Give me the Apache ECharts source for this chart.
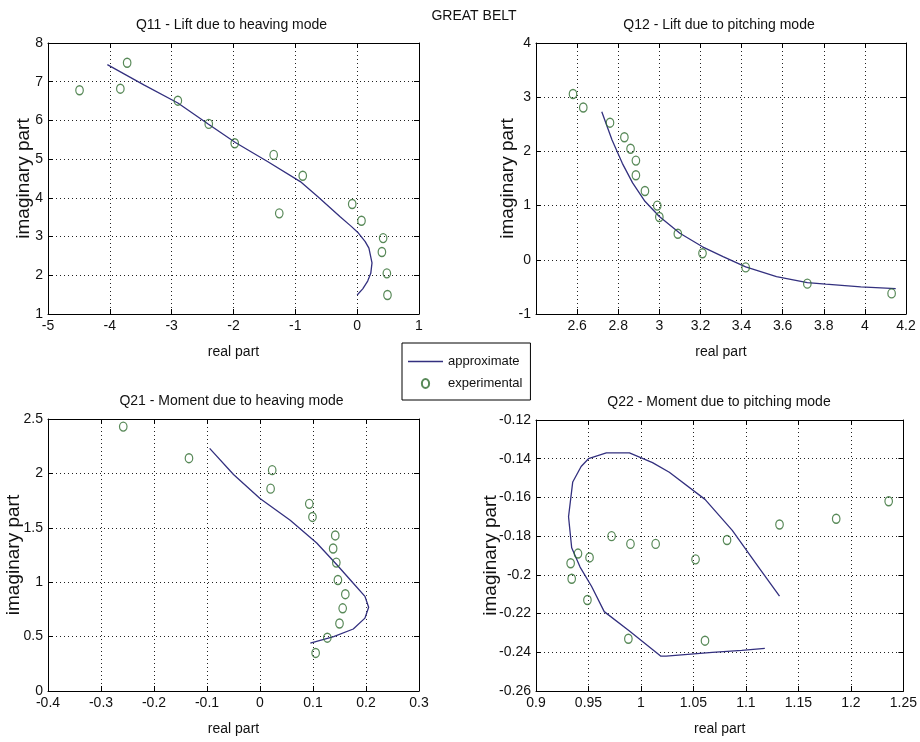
<!DOCTYPE html>
<html>
<head>
<meta charset="utf-8">
<script src="https://cdn.jsdelivr.net/npm/echarts@6/dist/echarts.min.js"></script>
<style>
  html, body { margin: 0; padding: 0; background: #fff; }
  #chart { width: 920px; height: 742px; }
</style>
</head>
<body>
<div id="chart"></div>
<script>
// Great Belt bridge deck: flutter derivative transfer functions in the complex plane

const q11ExpRe = [-4.49, -3.83, -3.72, -2.90, -2.40, -1.98, -1.35, -0.88, -1.26, -0.08, 0.07, 0.42, 0.40, 0.48, 0.49];
const q11ExpIm = [6.78, 6.82, 7.49, 6.51, 5.91, 5.41, 5.11, 4.57, 3.60, 3.84, 3.41, 2.96, 2.60, 2.05, 1.49];
const q11ApxRe = [-4.04, -3.45, -2.90, -2.41, -1.97, -1.45, -0.92, -0.63, -0.28, -0.10, 0.02, 0.13, 0.19, 0.24, 0.22, 0.17, 0.09, 0.00];
const q11ApxIm = [7.44, 6.92, 6.45, 5.91, 5.43, 4.94, 4.42, 4.02, 3.52, 3.27, 3.09, 2.87, 2.70, 2.32, 2.05, 1.85, 1.65, 1.49];

const q12ExpRe = [2.58, 2.63, 2.76, 2.83, 2.86, 2.886, 2.886, 2.93, 2.99, 3.00, 3.09, 3.21, 3.42, 3.72, 4.13];
const q12ExpIm = [3.06, 2.81, 2.53, 2.26, 2.05, 1.83, 1.56, 1.27, 1.00, 0.79, 0.48, 0.12, -0.14, -0.44, -0.62];
const q12ApxRe = [2.72, 2.77, 2.82, 2.87, 2.93, 3.00, 3.10, 3.21, 3.31, 3.42, 3.57, 3.72, 3.81, 3.98, 4.15];
const q12ApxIm = [2.73, 2.21, 1.78, 1.42, 1.08, 0.80, 0.49, 0.24, 0.06, -0.13, -0.31, -0.42, -0.45, -0.50, -0.53];

const q21ExpRe = [-0.258, -0.134, 0.023, 0.020, 0.093, 0.099, 0.142, 0.138, 0.144, 0.147, 0.161, 0.156, 0.150, 0.127, 0.105];
const q21ExpIm = [2.43, 2.14, 2.03, 1.86, 1.72, 1.60, 1.43, 1.31, 1.18, 1.02, 0.89, 0.76, 0.62, 0.49, 0.35];
const q21ApxRe = [-0.095, -0.05, 0.0, 0.057, 0.107, 0.145, 0.176, 0.198, 0.205, 0.198, 0.176, 0.139, 0.095];
const q21ApxIm = [2.23, 1.99, 1.77, 1.57, 1.36, 1.16, 0.99, 0.87, 0.77, 0.67, 0.57, 0.50, 0.44];

const q22ExpRe = [0.933, 0.934, 0.940, 0.951, 0.949, 0.972, 0.990, 1.014, 0.988, 1.052, 1.061, 1.082, 1.132, 1.186, 1.236];
const q22ExpIm = [-0.194, -0.202, -0.189, -0.191, -0.213, -0.180, -0.184, -0.184, -0.233, -0.192, -0.234, -0.182, -0.174, -0.171, -0.162];
const q22ApxRe = [1.132, 1.112, 1.087, 1.061, 1.027, 1.011, 0.989, 0.978, 0.967, 0.950, 0.943, 0.935, 0.931, 0.934, 0.942, 0.953, 0.965, 0.989, 1.019, 1.024, 1.068, 1.096, 1.118];
const q22ApxIm = [-0.211, -0.196, -0.177, -0.161, -0.147, -0.142, -0.137, -0.137, -0.137, -0.140, -0.144, -0.152, -0.170, -0.186, -0.196, -0.206, -0.219, -0.229, -0.242, -0.242, -0.240, -0.239, -0.238];

const panelTitles = [
  'Q11 - Lift due to heaving mode',
  'Q12 - Lift due to pitching mode',
  'Q21 - Moment due to heaving mode',
  'Q22 - Moment due to pitching mode'
];
const xRanges = [[-5, 1, 1], [2.4, 4.2, 0.2], [-0.4, 0.3, 0.1], [0.9, 1.25, 0.05]];
const yRanges = [[1, 8, 1], [-1, 4, 1], [0, 2.5, 0.5], [-0.26, -0.12, 0.02]];
const mainTitle = 'GREAT BELT';
const xName = 'real part';
const yName = 'imaginary part';
const lineName = 'approximate';
const markName = 'experimental';

const panels = [
  { expRe: q11ExpRe, expIm: q11ExpIm, apxRe: q11ApxRe, apxIm: q11ApxIm },
  { expRe: q12ExpRe, expIm: q12ExpIm, apxRe: q12ApxRe, apxIm: q12ApxIm },
  { expRe: q21ExpRe, expIm: q21ExpIm, apxRe: q21ApxRe, apxIm: q21ApxIm },
  { expRe: q22ExpRe, expIm: q22ExpIm, apxRe: q22ApxRe, apxIm: q22ApxIm }
];

const FONT = '"Liberation Sans", Arial, sans-serif';
const LINE_COLOR = '#33307f';
const MARK_COLOR = '#2e6b2e';
const ELLIPSE = 'path://M0,5 A4,5 0 1,0 8,5 A4,5 0 1,0 0,5 Z';
const BAR = 'path://M0,0 L35,0 L35,1.3 L0,1.3 Z';

const grids = [
  { left: 48, top: 43, width: 371, height: 271 },
  { left: 536, top: 43, width: 370, height: 271 },
  { left: 48, top: 419, width: 371, height: 272 },
  { left: 536, top: 420, width: 370, height: 271 }
];
const yNameGaps = [15, 19, 25, 36];

const pair = (a, b) => a.map((v, i) => [v, b[i]]);

const xAxes = [];
const yAxes = [];
const series = [];
const titles = [];

grids.forEach((g, i) => {
  const [xmin, xmax, xint] = xRanges[i];
  const [ymin, ymax, yint] = yRanges[i];
  const tick = { show: true, inside: true, length: 5, lineStyle: { color: '#000' } };
  const axLine = { show: true, onZero: false, lineStyle: { color: '#000', width: 1 } };
  const gridLine = { show: true, lineStyle: { color: '#222', type: [1, 3], width: 1 } };
  const lbl = { color: '#111', fontFamily: FONT, fontSize: 14, margin: 5 };

  // bottom / left axes carry labels and dotted grid
  xAxes.push({
    type: 'value', gridIndex: i, min: xmin, max: xmax, interval: xint,
    position: 'bottom',
    axisLine: axLine, axisTick: tick, splitLine: gridLine,
    axisLabel: Object.assign({ showMinLabel: i !== 1 }, lbl),
    name: xName, nameLocation: 'middle', nameGap: 31, nameMoveOverlap: false,
    nameTextStyle: { color: '#111', fontFamily: FONT, fontSize: 14 }
  });
  // top / right axes close the box with inward ticks
  xAxes.push({
    type: 'value', gridIndex: i, min: xmin, max: xmax, interval: xint,
    position: 'top',
    axisLine: axLine, axisTick: tick, splitLine: { show: false },
    axisLabel: { show: false }
  });
  yAxes.push({
    type: 'value', gridIndex: i, min: ymin, max: ymax, interval: yint,
    position: 'left',
    axisLine: axLine, axisTick: tick, splitLine: gridLine,
    axisLabel: lbl,
    name: yName, nameLocation: 'middle', nameGap: yNameGaps[i], nameMoveOverlap: false,
    nameTextStyle: { color: '#111', fontFamily: FONT, fontSize: 19, verticalAlign: 'bottom' }
  });
  yAxes.push({
    type: 'value', gridIndex: i, min: ymin, max: ymax, interval: yint,
    position: 'right',
    axisLine: axLine, axisTick: tick, splitLine: { show: false },
    axisLabel: { show: false }
  });

  const p = panels[i];
  series.push({
    name: lineName, type: 'line',
    xAxisIndex: 2 * i, yAxisIndex: 2 * i,
    data: pair(p.apxRe, p.apxIm),
    showSymbol: false, symbol: 'none', smooth: false,
    lineStyle: { color: LINE_COLOR, width: 1.3 },
    itemStyle: { color: LINE_COLOR },
    silent: true, z: 3
  });
  series.push({
    name: markName, type: 'scatter',
    xAxisIndex: 2 * i, yAxisIndex: 2 * i,
    data: pair(p.expRe, p.expIm),
    symbol: ELLIPSE, symbolSize: [7.5, 9],
    itemStyle: { color: 'rgba(0,0,0,0)', borderColor: MARK_COLOR, borderWidth: 1.3 },
    silent: true, z: 4
  });

  titles.push({
    text: panelTitles[i],
    left: g.left + g.width / 2 - 2,
    top: g.top - 25,
    textAlign: 'center',
    padding: 0,
    textStyle: { color: '#111', fontFamily: FONT, fontSize: 14, fontWeight: 'normal' }
  });
});

titles.push({
  text: mainTitle,
  left: 474,
  top: 9,
  textAlign: 'center',
  padding: 0,
  textStyle: { color: '#111', fontFamily: FONT, fontSize: 14, fontWeight: 'normal' }
});

const chart = echarts.init(document.getElementById('chart'), null, { renderer: 'canvas' });
chart.setOption({
  backgroundColor: '#fff',
  animation: false,
  title: titles,
  grid: grids.map(g => Object.assign({ containLabel: false }, g)),
  xAxis: xAxes,
  yAxis: yAxes,
  legend: {
    data: [
      { name: lineName, icon: BAR, itemStyle: { color: LINE_COLOR, borderWidth: 0 } },
      { name: markName }
    ],
    orient: 'vertical',
    left: 402,
    top: 343,
    selectedMode: false,
    backgroundColor: '#fff',
    borderColor: '#000',
    borderWidth: 1,
    borderRadius: 0,
    padding: [12, 8, 10, 6],
    itemGap: 9,
    itemWidth: 35,
    itemHeight: 9,
    textStyle: { color: '#111', fontFamily: FONT, fontSize: 13 }
  },
  series: series
});
</script>
</body>
</html>
